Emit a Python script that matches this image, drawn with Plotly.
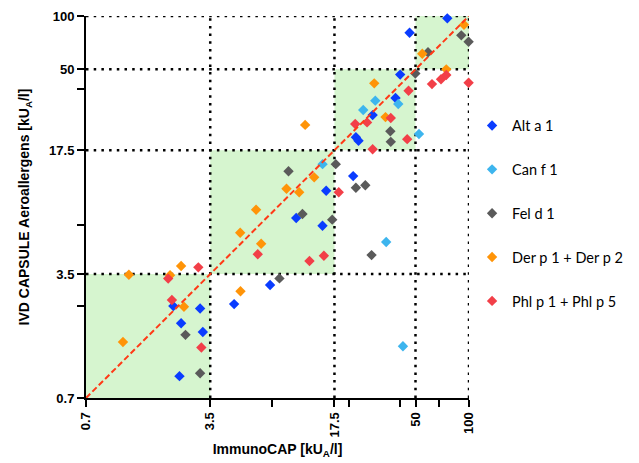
import plotly.graph_objects as go

# ---- data (ImmunoCAP x, IVD CAPSULE y), kU_A/l ----
alt_x = [2.17, 3.07, 2.40, 3.18, 2.35, 4.77, 7.60, 10.66, 14.99, 15.72, 22.3, 23.1, 23.9, 28.7, 38.6, 41.0, 46.3, 75.5]
alt_y = [2.31, 2.24, 1.85, 1.65, 0.93, 2.37, 3.04, 7.25, 6.56, 10.34, 12.5, 20.7, 19.8, 27.6, 34.5, 46.7, 80.5, 97.0]

can_x = [15.0, 25.4, 29.7, 40.0, 52.3, 34.2, 42.5]
can_y = [14.6, 29.5, 33.3, 31.9, 21.6, 5.31, 1.37]

fel_x = [2.54, 3.07, 8.58, 9.65, 11.56, 17.0, 17.8, 23.1, 26.1, 28.3, 36.1, 36.3, 49.9, 58.8, 90.5, 99.5]
fel_y = [1.59, 0.965, 3.31, 13.3, 7.64, 7.10, 14.6, 10.75, 11.1, 4.48, 22.4, 19.5, 47.4, 62.4, 77.8, 71.6]

der_x = [2.40, 1.22, 2.08, 2.49, 1.13, 5.18, 5.16, 6.34, 6.77, 9.40, 11.08, 13.46, 11.97, 29.3, 33.9, 54.6, 74.5, 93.7]
der_y = [3.89, 3.47, 3.45, 2.29, 1.45, 2.80, 5.99, 8.08, 5.19, 10.6, 10.13, 12.3, 24.3, 41.7, 26.9, 61.3, 50.0, 89.3]

phl_x = [3.00, 2.03, 2.13, 3.12, 6.48, 12.66, 15.26, 18.5, 22.9, 26.7, 28.7, 36.3, 44.9, 45.7, 61.9, 69.6, 74.5, 99.5]
phl_y = [3.82, 3.30, 2.50, 1.35, 4.53, 4.15, 4.44, 10.13, 24.6, 25.1, 17.7, 26.6, 20.2, 37.9, 41.3, 44.0, 46.5, 42.0]

series = [
    ("Alt a 1", alt_x, alt_y, "#0a3cff"),
    ("Can f 1", can_x, can_y, "#3db5ee"),
    ("Fel d 1", fel_x, fel_y, "#5a5a5a"),
    ("Der p 1 + Der p 2", der_x, der_y, "#ff9408"),
    ("Phl p 1 + Phl p 5", phl_x, phl_y, "#f23f48"),
]

tick_vals = [0.7, 3.5, 17.5, 50, 100]
tick_text = ["0.7", "3.5", "17.5", "50", "100"]
x_minor = [7.8, 21, 41, 68]
y_minor = [2.3, 6.65, 38.5]
boxes = [(0.7, 3.5), (3.5, 17.5), (17.5, 50), (50, 100)]
grid_vals = [3.5, 17.5, 50, 100]
lo, hi = 0.7, 100

fig = go.Figure()

for i, (name, xs, ys, col) in enumerate(series):
    fig.add_trace(go.Scatter(
        x=xs, y=ys, mode="markers", name=name, legendgroup=name,
        marker=dict(symbol="diamond", size=8, color=col, line=dict(width=0)),
        cliponaxis=False,
    ))

fig.add_trace(go.Scatter(
    x=[lo, hi], y=[lo, hi], mode="lines", showlegend=False,
    line=dict(color="#ff3a17", width=2, dash="6px,3px"), hoverinfo="skip",
))

shapes = []
for a, b in boxes:
    shapes.append(dict(type="rect", xref="x", yref="y", x0=a, x1=b, y0=a, y1=b,
                       fillcolor="#d6f5cf", line=dict(width=0), layer="below"))
for g in grid_vals:
    shapes.append(dict(type="line", xref="x", yref="y", x0=g, x1=g, y0=lo, y1=hi,
                       line=dict(color="black", width=2.5, dash="2.5px,5.2px"), layer="below"))
    shapes.append(dict(type="line", xref="x", yref="y", x0=lo, x1=hi, y0=g, y1=g,
                       line=dict(color="black", width=2.5, dash="2.5px,5.2px"), layer="below"))

axis_common = dict(
    type="log", range=[-0.15490196, 2], tickmode="array",
    tickvals=tick_vals, ticktext=tick_text, automargin=False,
    showgrid=False, zeroline=False, showline=True, linecolor="black", linewidth=2,
    ticks="outside", ticklen=7, tickwidth=2, tickcolor="black",
    tickfont=dict(family="Liberation Sans, Arial", size=13, color="black", weight="bold"),
)

fig.update_layout(
    width=639, height=463,
    margin=dict(l=78, r=178, t=8, b=73),
    paper_bgcolor="white", plot_bgcolor="white",
    shapes=shapes,
    xaxis=dict(**axis_common, tickangle=-90,
               minor=dict(tickvals=x_minor, ticks="outside", ticklen=7, tickwidth=2, tickcolor="black"),
               title=dict(text="ImmunoCAP [kU<sub>A</sub>/l]", standoff=8,
                          font=dict(family="Liberation Sans, Arial", size=14, color="black", weight="bold"))),
    yaxis=dict(**axis_common,
               minor=dict(tickvals=y_minor, ticks="outside", ticklen=7, tickwidth=2, tickcolor="black"),
               title=dict(text="IVD CAPSULE Aeroallergens [kU<sub>A</sub>/l]", standoff=16,
                          font=dict(family="Liberation Sans, Arial", size=14, color="black", weight="bold"))),
    legend=dict(x=1.008, y=0.755, xanchor="left", yanchor="top",
                font=dict(family="Lato, Liberation Sans, Arial", size=14.5, color="black"),
                tracegroupgap=22, bgcolor="rgba(0,0,0,0)"),
    showlegend=True,
)

fig.write_html("out.html")
